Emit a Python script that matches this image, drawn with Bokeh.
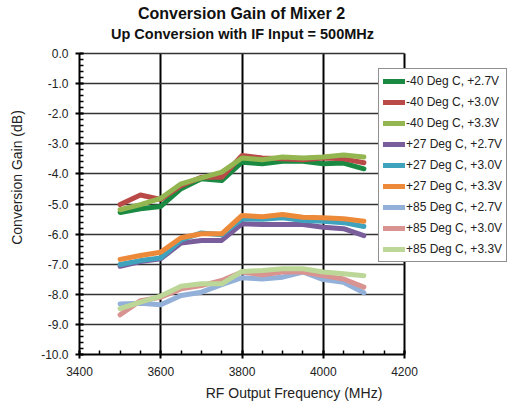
from bokeh.plotting import figure
from bokeh.models import Range1d, Label, Legend, LegendItem, FixedTicker, ColumnDataSource
from bokeh.embed import file_html
from bokeh.resources import INLINE

freq = [3500, 3550, 3600, 3650, 3700, 3750, 3800, 3850, 3900, 3950, 4000, 4050, 4100]

m40_27 = [-5.28, -5.16, -5.08, -4.49, -4.16, -4.22, -3.61, -3.66, -3.58, -3.58, -3.66, -3.64, -3.83]
m40_30 = [-5.02, -4.70, -4.85, -4.39, -4.11, -4.11, -3.39, -3.47, -3.50, -3.53, -3.47, -3.50, -3.63]
m40_33 = [-5.19, -5.02, -4.81, -4.33, -4.13, -3.94, -3.47, -3.53, -3.44, -3.47, -3.44, -3.37, -3.44]
p27_27 = [-7.07, -6.91, -6.82, -6.30, -6.21, -6.21, -5.66, -5.68, -5.68, -5.68, -5.77, -5.82, -6.05]
p27_30 = [-7.01, -6.88, -6.79, -6.19, -5.96, -6.02, -5.49, -5.51, -5.46, -5.55, -5.57, -5.62, -5.75]
p27_33 = [-6.84, -6.71, -6.60, -6.12, -5.99, -5.99, -5.38, -5.42, -5.35, -5.44, -5.46, -5.49, -5.57]
p85_27 = [-8.32, -8.30, -8.35, -8.04, -7.93, -7.68, -7.45, -7.49, -7.43, -7.26, -7.51, -7.60, -7.95]
p85_30 = [-8.68, -8.21, -8.10, -7.82, -7.71, -7.54, -7.26, -7.35, -7.26, -7.26, -7.38, -7.49, -7.76]
p85_33 = [-8.48, -8.26, -8.06, -7.73, -7.65, -7.65, -7.24, -7.21, -7.15, -7.15, -7.26, -7.32, -7.38]

series_names = ["-40 Deg C, +2.7V", "-40 Deg C, +3.0V", "-40 Deg C, +3.3V",
                "+27 Deg C, +2.7V", "+27 Deg C, +3.0V", "+27 Deg C, +3.3V",
                "+85 Deg C, +2.7V", "+85 Deg C, +3.0V", "+85 Deg C, +3.3V"]
series_values = [m40_27, m40_30, m40_33, p27_27, p27_30, p27_33, p85_27, p85_30, p85_33]
colors = ["#1A8A42", "#B94A47", "#93B651", "#7A5E9C", "#3FA3BE", "#ED8A3A",
          "#93B0D8", "#D99391", "#BCD797"]

x_ticks = [3400, 3600, 3800, 4000, 4200]
y_ticks = [0.0, -1.0, -2.0, -3.0, -4.0, -5.0, -6.0, -7.0, -8.0, -9.0, -10.0]
x_min, x_max = 3400, 4200
y_min, y_max = -10.0, 0.0

FONT = "Liberation Sans"

W, H = 508, 407
LEFT, TOP_PX, RIGHT_PX, BOTTOM_PX = 79, 53, 404, 354
px_per_x = (RIGHT_PX - LEFT) / (x_max - x_min)
px_per_y = (BOTTOM_PX - TOP_PX) / (y_max - y_min)
x_end = x_min + (W - LEFT) / px_per_x
y_end = y_min + BOTTOM_PX / px_per_y

p = figure(width=W, height=H, output_backend="svg", toolbar_location=None,
           x_range=Range1d(x_min, x_end), y_range=Range1d(y_min, y_end),
           min_border_left=LEFT, min_border_right=0, min_border_top=0,
           min_border_bottom=H - BOTTOM_PX)
p.outline_line_color = None

p.xaxis.ticker = FixedTicker(ticks=x_ticks, minor_ticks=list(range(3400, 4201, 50)))
p.yaxis.ticker = FixedTicker(ticks=y_ticks, minor_ticks=[round(-0.2 * i, 1) for i in range(51)])
p.yaxis.major_label_overrides = {t: f"{t:.1f}" for t in y_ticks}
p.xaxis.bounds = (x_min, x_max)
p.yaxis.bounds = (y_min, y_max)

for ax in (p.xaxis[0], p.yaxis[0]):
    ax.axis_line_color = "black"
    ax.axis_line_width = 2
    ax.major_tick_line_color = "black"
    ax.major_tick_line_width = 2
    ax.minor_tick_line_color = "black"
    ax.minor_tick_line_width = 1.5
    ax.major_tick_in = 4
    ax.major_tick_out = 4
    ax.minor_tick_in = 4
    ax.minor_tick_out = 0
    ax.major_label_text_font = FONT
    ax.major_label_text_font_size = "12px"
    ax.major_label_text_color = "#222222"
    ax.axis_label_text_font = FONT
    ax.axis_label_text_font_size = "14px"
    ax.axis_label_text_font_style = "normal"
    ax.axis_label_text_color = "#222222"

p.xaxis.axis_label = "RF Output Frequency (MHz)"
p.yaxis.axis_label = "Conversion Gain (dB)"
p.xaxis.major_label_standoff = 8
p.yaxis.major_label_standoff = 7
p.xaxis.axis_label_standoff = 6
p.yaxis.axis_label_standoff = 13

p.xgrid.grid_line_color = "black"
p.xgrid.grid_line_width = 2
p.xgrid.cross_bounds = (y_min, y_max)
p.ygrid.grid_line_color = "#333333"
p.ygrid.grid_line_width = 1.5
p.ygrid.cross_bounds = (x_min, x_max)

items = []
for name, vals, col in zip(series_names, series_values, colors):
    src = ColumnDataSource(dict(x=freq, y=vals))
    r = p.line("x", "y", source=src, line_color=col, line_width=5, line_join="round", line_cap="round")
    items.append(LegendItem(label=name, renderers=[r]))

legend = Legend(items=items, location=(378 - LEFT, BOTTOM_PX - 262), orientation="vertical",
                label_text_font=FONT, label_text_font_size="12px", label_text_color="#222222",
                glyph_width=22, glyph_height=16, label_height=16, label_standoff=1,
                spacing=5, padding=4, margin=0,
                border_line_color="#222222", border_line_width=1.5,
                background_fill_color="white", background_fill_alpha=1)
p.add_layout(legend, "center")

p.add_layout(Label(x=241 - LEFT, y=BOTTOM_PX - 13, x_units="screen", y_units="screen",
                   text="Conversion Gain of Mixer 2", text_font=FONT, text_font_size="16px",
                   text_font_style="bold", text_align="center", text_baseline="middle",
                   text_color="#111111"))
p.add_layout(Label(x=242 - LEFT, y=BOTTOM_PX - 33, x_units="screen", y_units="screen",
                   text="Up Conversion with IF Input = 500MHz", text_font=FONT, text_font_size="14.5px",
                   text_font_style="bold", text_align="center", text_baseline="middle",
                   text_color="#111111"))

open("out.html", "w").write(file_html(p, INLINE))
